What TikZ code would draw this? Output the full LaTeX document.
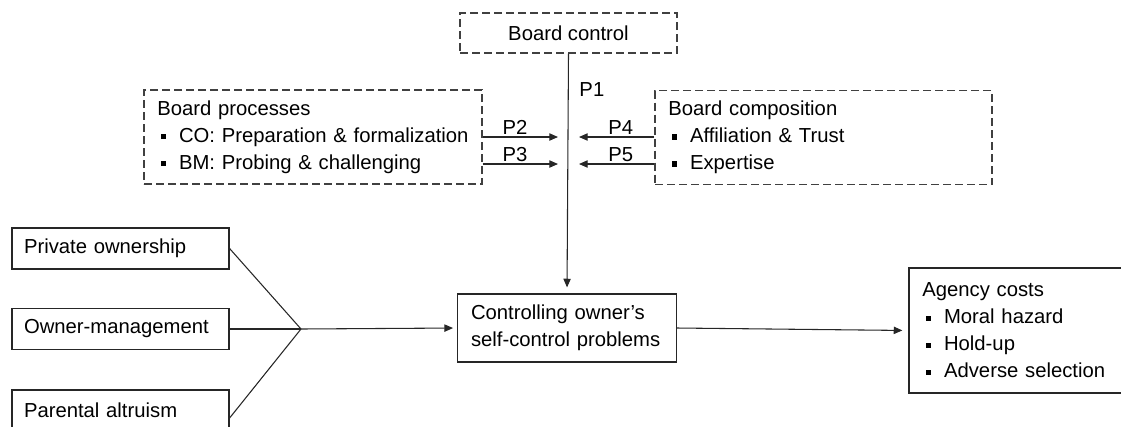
\documentclass[tikz,border=0pt]{standalone}
\usepackage{fontspec}
\setmainfont{Liberation Sans}
\usetikzlibrary{arrows.meta,calc}
\newcommand{\bul}{\hspace*{3pt}\rule[2.4pt]{3.8pt}{3.8pt}\hspace*{9.5pt}}
\begin{document}
\begin{tikzpicture}[x=0.75pt,y=-0.75pt,
  every node/.style={font=\fontsize{15.2pt}{20.25pt}\selectfont, text=black},
  dbox/.style={draw=black!75, line width=0.9pt, dash pattern=on 6pt off 3pt, inner sep=0pt},
  sbox/.style={draw=black!85, line width=0.9pt, inner sep=0pt},
  ltext/.style={align=left, inner xsep=10pt, inner ysep=0pt},
  conn/.style={draw=black!85, line width=0.8pt},
  arr/.style={conn, -{Triangle[length=6.5pt,width=5.5pt]}},
  plab/.style={inner sep=1.5pt}
]
\useasboundingbox (0,0) rectangle (1121,426);
\clip (0,0) rectangle (1121,426);

% dashed boxes
\node[dbox, minimum width=162.75pt, minimum height=30pt, align=center] (bctl) at (568.5,33) {Board control};
\node[dbox, ltext, text width=233.5pt, minimum height=70.5pt] (bp) at (313,137)
  {Board processes\\\bul CO: Preparation \& formalization\\\bul BM: Probing \& challenging};
\node[dbox, ltext, text width=232.75pt, minimum height=70.5pt] (bc) at (823.5,137.5)
  {Board composition\\\bul Affiliation \& Trust\\\bul Expertise};

% solid boxes
\node[sbox, ltext, inner xsep=9pt, text width=144.75pt, minimum height=30.75pt] (po) at (120.5,248.5) {Private ownership};
\node[sbox, ltext, inner xsep=9pt, text width=144.75pt, minimum height=30.75pt] (om) at (120.5,329) {Owner-management};
\node[sbox, ltext, inner xsep=9pt, text width=144.75pt, minimum height=30.75pt] (pa) at (120.5,410.5) {Parental altruism};
\node[sbox, ltext, text width=144pt, minimum height=51pt] (cs) at (567,328)
  {Controlling owner’s\\self-control problems};
\node[sbox, ltext, text width=160pt, minimum height=93.75pt] (ac) at (1029,330.5)
  {Agency costs\\\bul Moral hazard\\\bul Hold-up\\\bul Adverse selection};

% coordinates
\coordinate (m) at (301,329);
\coordinate (paend) at ($(pa.east)+(0,7.5)$);
\coordinate (t2) at (558,137);
\coordinate (t3) at (558,164);
\coordinate (t4) at (579,137);
\coordinate (t5) at (579,164);
\coordinate (s2) at (bp.east |- t2);
\coordinate (s3) at (bp.east |- t3);
\coordinate (s4) at (bc.west |- t4);
\coordinate (s5) at (bc.west |- t5);

% connectors
\draw[arr, shorten >=4.5pt] (bctl.south) -- (cs.north)
  node[pos=0.149, anchor=west, xshift=8pt, inner sep=0pt] (p1) {P1};
\draw[arr] (s2) -- (t2) node[midway, above, plab, xshift=-4pt] (p2) {P2};
\draw[arr] (s3) -- (t3) node[midway, above, plab, xshift=-4pt] (p3) {P3};
\draw[arr] (s4) -- (t4) node[midway, above, plab, xshift=3pt] (p4) {P4};
\draw[arr] (s5) -- (t5) node[midway, above, plab, xshift=3pt] (p5) {P5};

\draw[conn] (po.east) -- (m);
\draw[conn] (om.east) -- (m);
\draw[conn] (paend) -- (m);
\draw[arr, shorten >=3pt] (m) -- (cs.west);
\draw[arr, shorten >=4.5pt] (cs.east) -- (ac.west);
\end{tikzpicture}
\end{document}
